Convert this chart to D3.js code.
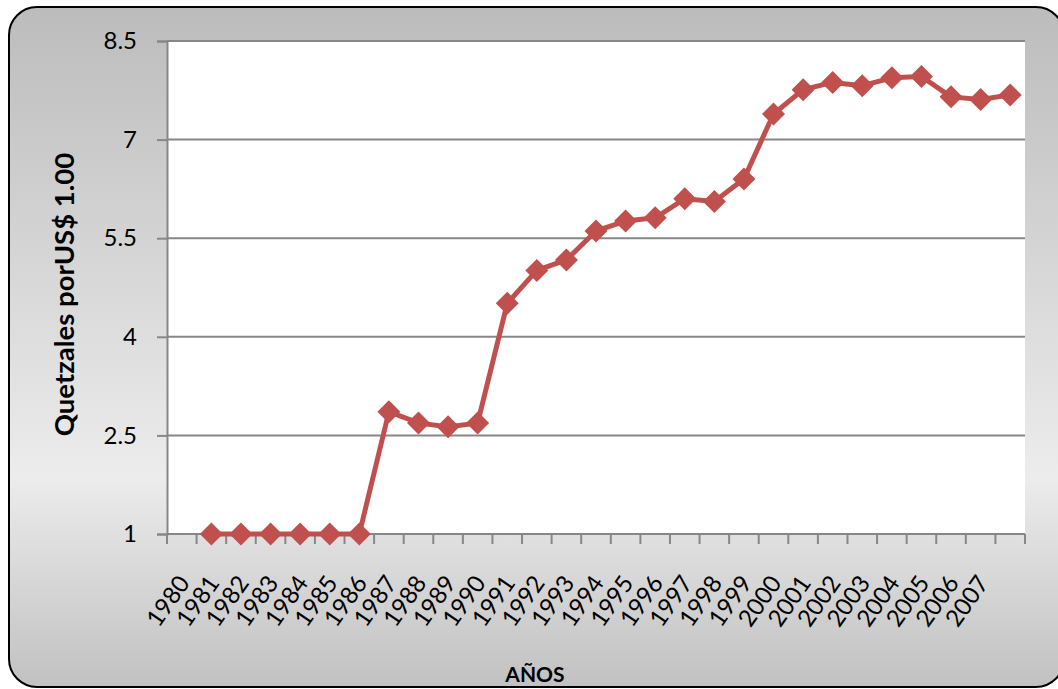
<!DOCTYPE html>
<html>
<head>
<meta charset="utf-8">
<script src="https://cdn.jsdelivr.net/npm/d3@7"></script>
<style>
  html, body { margin: 0; padding: 0; background: #ffffff; }
  svg { display: block; }
</style>
</head>
<body>
<div id="chart"></div>
<script>
// Exchange rate, quetzales per US$ 1.00
const years = ["1980","1981","1982","1983","1984","1985","1986","1987","1988","1989",
               "1990","1991","1992","1993","1994","1995","1996","1997","1998","1999",
               "2000","2001","2002","2003","2004","2005","2006","2007",""];
const rates = [null, 1, 1, 1, 1, 1, 1, 2.86, 2.69, 2.63, 2.69, 4.51, 5.01, 5.17, 5.61,
               5.76, 5.81, 6.10, 6.06, 6.40, 7.39, 7.76, 7.87, 7.82, 7.94, 7.96, 7.65, 7.61, 7.68];
const yTicks = [1, 2.5, 4, 5.5, 7, 8.5];
const yTitle = "Quetzales porUS$ 1.00";
const xTitle = "AÑOS";

const W = 1058, H = 689;
const plot = { left: 167, right: 1025, top: 41, bottom: 534 };
const font = "Lato, 'Open Sans', sans-serif";

const svg = d3.select("#chart").append("svg")
  .attr("width", W).attr("height", H);

// Frame background gradient
const defs = svg.append("defs");
const grad = defs.append("linearGradient")
  .attr("id", "frameGrad").attr("x1", 0).attr("y1", 0).attr("x2", 0).attr("y2", 1);
grad.append("stop").attr("offset", "0%").attr("stop-color", "#bcbcbc");
grad.append("stop").attr("offset", "69%").attr("stop-color", "#ececec");
grad.append("stop").attr("offset", "100%").attr("stop-color", "#c1c1c1");

svg.append("rect")
  .attr("x", 9).attr("y", 7).attr("width", 1055).attr("height", 680)
  .attr("rx", 28).attr("ry", 28)
  .attr("fill", "url(#frameGrad)")
  .attr("stroke", "#000").attr("stroke-width", 2);

// Plot area
svg.append("rect")
  .attr("x", plot.left).attr("y", plot.top)
  .attr("width", plot.right - plot.left).attr("height", plot.bottom - plot.top)
  .attr("fill", "#ffffff");

const x = d3.scaleBand().domain(d3.range(years.length))
  .range([plot.left, plot.right]).paddingInner(0).paddingOuter(0);
const y = d3.scaleLinear().domain([1, 8.5]).range([plot.bottom, plot.top]);

const gridColor = "#878787";

// Horizontal gridlines
svg.append("g").selectAll("line")
  .data(yTicks.filter(t => t > 1))
  .join("line")
  .attr("x1", plot.left).attr("x2", plot.right)
  .attr("y1", d => y(d)).attr("y2", d => y(d))
  .attr("stroke", gridColor).attr("stroke-width", 2);

// Y axis
const yAxis = d3.axisLeft(y).tickValues(yTicks).tickSize(10).tickPadding(20)
  .tickFormat(d => d3.format("")(d));
const gy = svg.append("g").attr("transform", `translate(${plot.left},0)`).call(yAxis);
gy.select(".domain").attr("stroke", gridColor).attr("stroke-width", 2);
gy.selectAll(".tick line").attr("stroke", gridColor).attr("stroke-width", 2);
gy.selectAll(".tick text")
  .attr("font-family", font)
  .attr("font-size", 24).attr("fill", "#000");

// X axis: ticks on category boundaries
const xLine = svg.append("g");
xLine.append("line")
  .attr("x1", plot.left).attr("x2", plot.right)
  .attr("y1", plot.bottom).attr("y2", plot.bottom)
  .attr("stroke", gridColor).attr("stroke-width", 2);
xLine.selectAll("line.tk")
  .data(d3.range(years.length + 1))
  .join("line").attr("class", "tk")
  .attr("x1", i => plot.left + i * x.bandwidth())
  .attr("x2", i => plot.left + i * x.bandwidth())
  .attr("y1", plot.bottom).attr("y2", plot.bottom + 10)
  .attr("stroke", gridColor).attr("stroke-width", 2);

// Category labels, rotated
svg.append("g").selectAll("text")
  .data(years.map((t, i) => ({ t, i })).filter(d => d.t !== ""))
  .join("text")
  .attr("transform", d => `translate(${x(d.i) + x.bandwidth() / 2 + 9},${plot.bottom + 49}) rotate(-55)`)
  .attr("text-anchor", "end")
  .attr("font-family", font)
  .attr("font-size", 24)
  .attr("fill", "#000")
  .text(d => d.t);

// Series line
const pts = rates.map((v, i) => ({ v, i })).filter(d => d.v !== null);
const line = d3.line()
  .x(d => x(d.i) + x.bandwidth() / 2)
  .y(d => y(d.v));
svg.append("path")
  .datum(pts)
  .attr("d", line)
  .attr("fill", "none")
  .attr("stroke", "#c0504d")
  .attr("stroke-width", 5)
  .attr("stroke-linejoin", "round");

// Diamond markers
const r = 11.5;
svg.append("g").selectAll("path")
  .data(pts)
  .join("path")
  .attr("transform", d => `translate(${x(d.i) + x.bandwidth() / 2},${y(d.v)})`)
  .attr("d", `M0,${-r}L${r},0L0,${r}L${-r},0Z`)
  .attr("fill", "#c0504d");

// Axis titles
svg.append("text")
  .attr("transform", `translate(74,${(plot.top + plot.bottom) / 2 + 7}) rotate(-90)`)
  .attr("text-anchor", "middle")
  .attr("font-family", font)
  .attr("font-weight", "bold")
  .attr("font-size", 27.5)
  .attr("fill", "#000")
  .text(yTitle);

svg.append("text")
  .attr("x", 535).attr("y", 682)
  .attr("text-anchor", "middle")
  .attr("font-family", font)
  .attr("font-weight", "bold")
  .attr("font-size", 21)
  .attr("fill", "#000")
  .text(xTitle);
</script>
</body>
</html>
